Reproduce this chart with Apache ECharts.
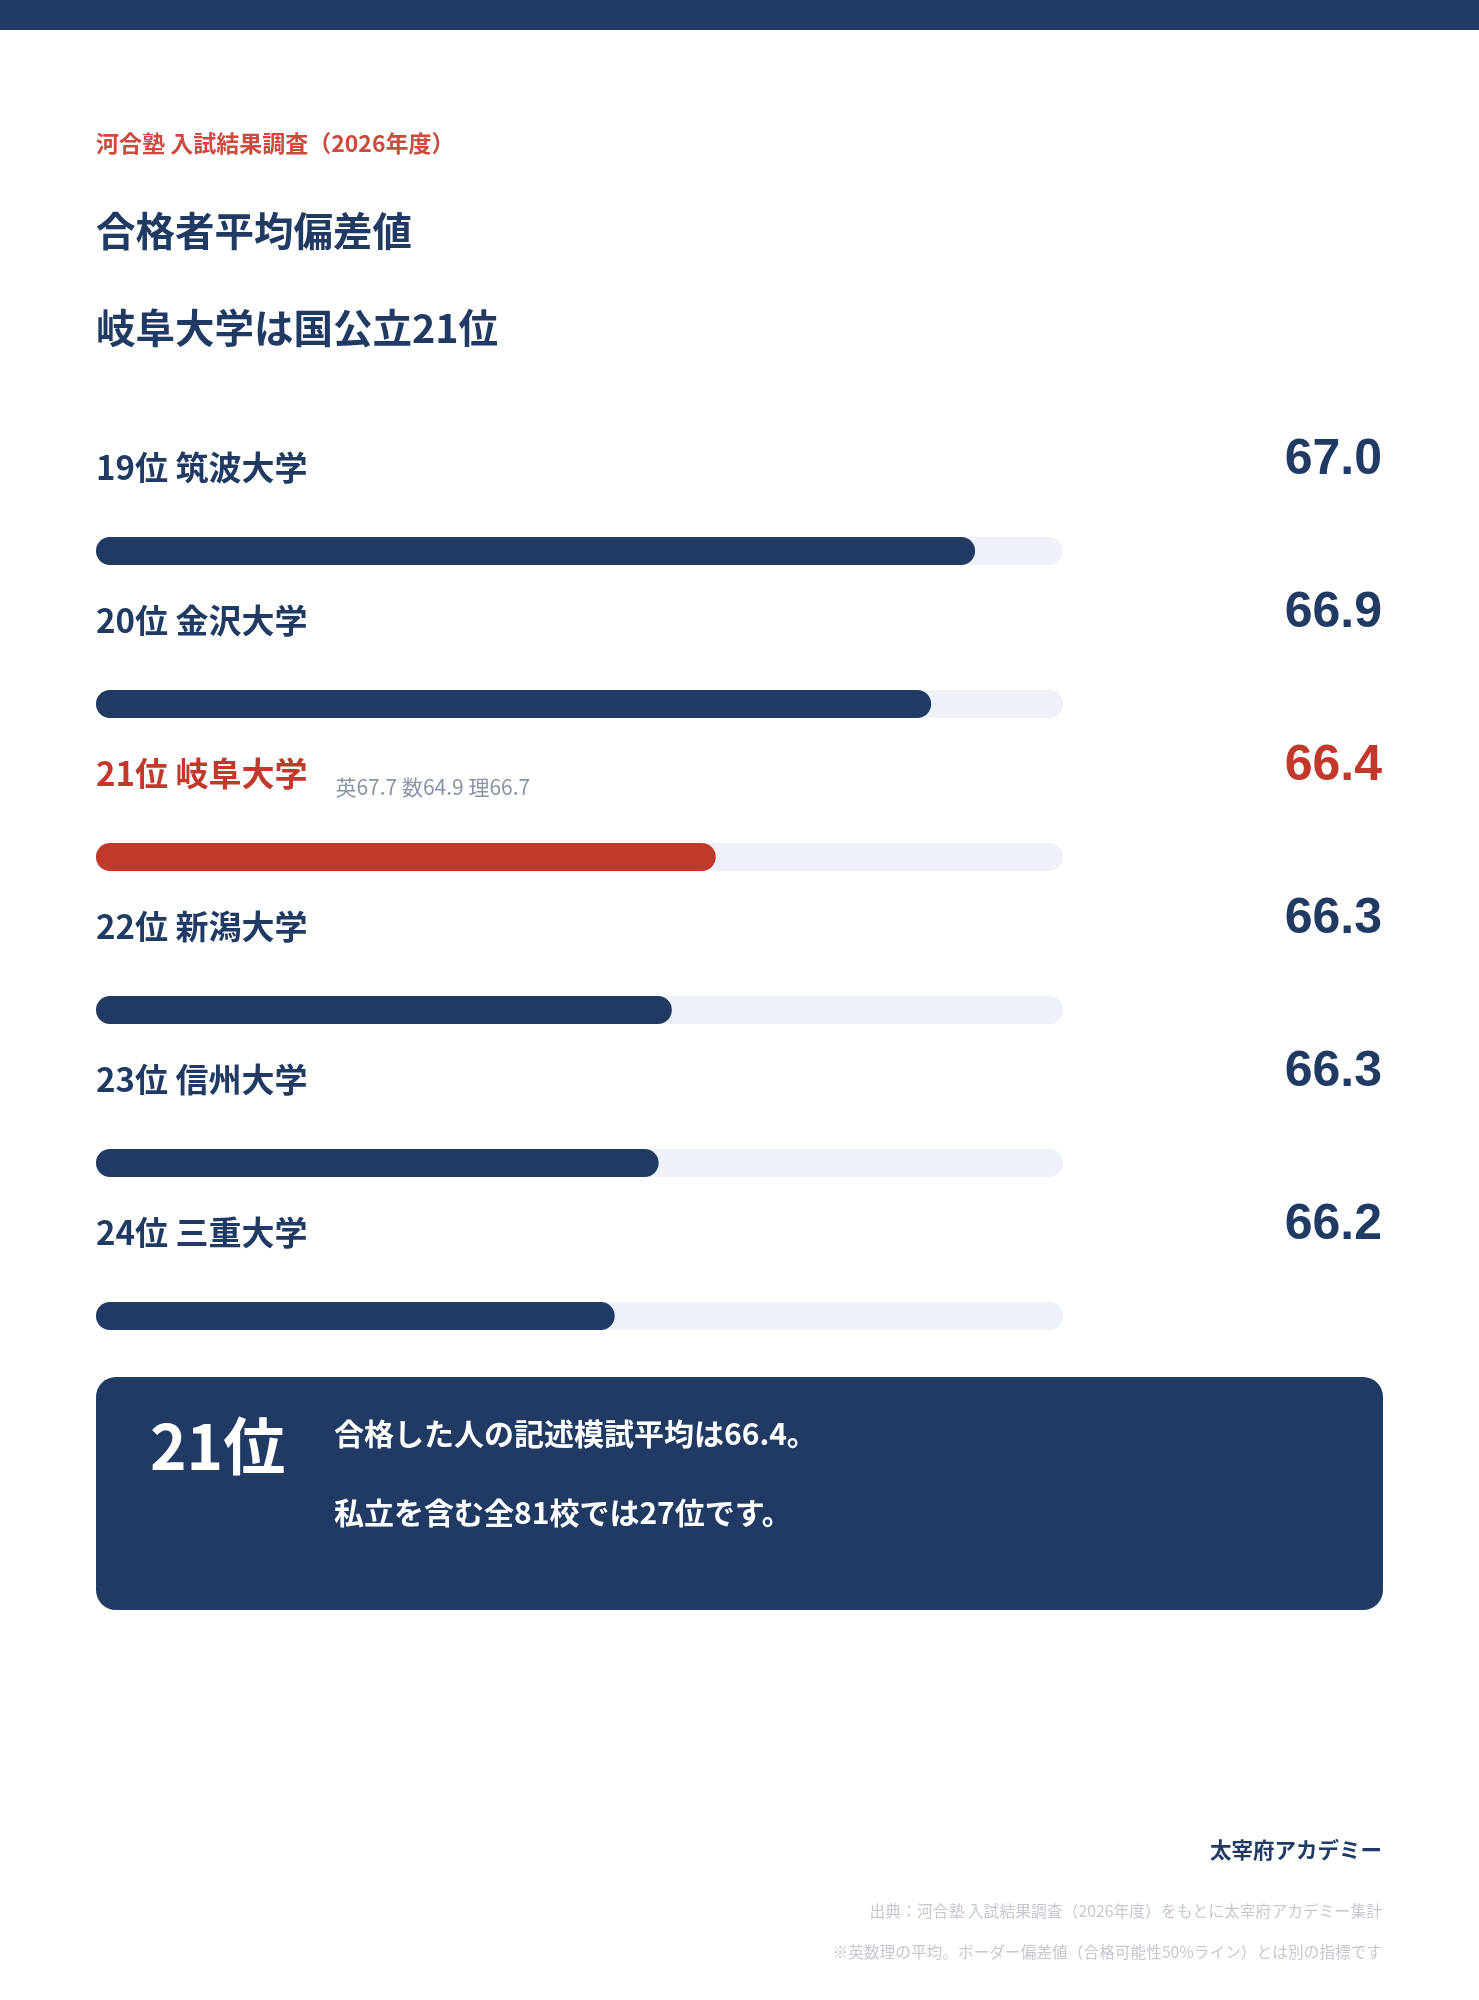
<!DOCTYPE html>
<html>
<head>
<meta charset="utf-8">
<script src="https://cdn.jsdelivr.net/npm/echarts@6/dist/echarts.min.js"></script>
<style>
html,body{margin:0;padding:0;background:#ffffff;}
#chart{width:1479px;height:2000px;}
</style>
</head>
<body>
<div id="chart"></div>
<script>
// ---- data ----
const ranks = [19, 20, 21, 22, 23, 24];
const universities = ['筑波大学', '金沢大学', '岐阜大学', '新潟大学', '信州大学', '三重大学'];
const scores = [67.0, 66.9, 66.41, 66.31, 66.28, 66.18];
const subScores = ['', '', '英67.7 数64.9 理66.7', '', '', ''];
const highlightIndex = 2;
const axisMin = 65.0;
const axisMax = 67.2;

const NAVY = '#213a63';
const RED = '#c0392b';
const TRACK = '#eef1f8';
const CJK = '"Noto Sans CJK JP", "Noto Sans", sans-serif';
const NUM = '"Liberation Sans", Arial, sans-serif';

const chart = echarts.init(document.getElementById('chart'));

const rowTop = 474.5, rowH = 918;

const option = {
  animation: false,
  backgroundColor: '#ffffff',
  grid: [
    { left: 96, right: 416, top: rowTop, height: rowH },
    { left: 96, right: 97, top: rowTop - 91, height: rowH },
    { left: 96, right: 97, top: rowTop - 84, height: rowH }
  ],
  xAxis: [
    { gridIndex: 0, type: 'value', min: axisMin, max: axisMax, show: false },
    { gridIndex: 1, type: 'value', min: 0, max: 1, show: false },
    { gridIndex: 2, type: 'value', min: 0, max: 1, show: false }
  ],
  yAxis: [
    { gridIndex: 0, type: 'category', data: universities, inverse: true, show: false },
    {
      gridIndex: 1, type: 'category', data: universities, inverse: true, position: 'right',
      axisLine: { show: false }, axisTick: { show: false },
      axisLabel: {
        inside: true, margin: 0, align: 'right', verticalAlign: 'middle',
        formatter: function (v, i) {
          return (i === highlightIndex ? '{r|' : '{n|') + scores[i].toFixed(1) + '}';
        },
        rich: {
          n: { fontFamily: NUM, fontWeight: 'bold', fontSize: 50, color: NAVY },
          r: { fontFamily: NUM, fontWeight: 'bold', fontSize: 50, color: RED }
        }
      }
    },
    {
      gridIndex: 2, type: 'category', data: universities, inverse: true, position: 'left',
      axisLine: { show: false }, axisTick: { show: false },
      axisLabel: {
        inside: true, margin: 0, align: 'left', verticalAlign: 'middle',
        formatter: function (v, i) {
          const label = ranks[i] + '位 ' + universities[i];
          const key = i === highlightIndex ? 'r' : 'n';
          return '{' + key + '|' + label + '}' + (subScores[i] ? '{s|' + subScores[i] + '}' : '');
        },
        rich: {
          n: { fontFamily: CJK, fontWeight: 'bold', fontSize: 33, color: NAVY, lineHeight: 50 },
          r: { fontFamily: CJK, fontWeight: 'bold', fontSize: 33, color: RED, lineHeight: 50 },
          s: { fontFamily: CJK, fontSize: 21, color: '#8a94a6', lineHeight: 21, verticalAlign: 'bottom', padding: [0, 0, 0, 28] }
        }
      }
    }
  ],
  series: [
    {
      type: 'bar',
      xAxisIndex: 0, yAxisIndex: 0,
      barWidth: 28,
      showBackground: true,
      backgroundStyle: { color: TRACK, borderRadius: 14 },
      itemStyle: { borderRadius: 14 },
      data: scores.map(function (v, i) {
        return { value: v, itemStyle: { color: i === highlightIndex ? RED : NAVY } };
      })
    }
  ],
  graphic: [
    { type: 'rect', left: 0, top: 0, shape: { width: 1479, height: 30 }, style: { fill: NAVY } },
    { type: 'text', left: 96, top: 132, style: { text: '河合塾 入試結果調査（2026年度）', font: 'bold 23px ' + CJK, fill: '#cc4a3f' } },
    { type: 'text', left: 96, top: 211, style: { text: '合格者平均偏差値', font: 'bold 39.5px ' + CJK, fill: NAVY } },
    { type: 'text', left: 96, top: 308, style: { text: '岐阜大学は国公立21位', font: 'bold 39.5px ' + CJK, fill: NAVY } },
    { type: 'rect', left: 96, top: 1377, shape: { width: 1287, height: 233, r: 20 }, style: { fill: NAVY } },
    { type: 'text', left: 150, top: 1415, style: { text: ranks[highlightIndex] + '位', font: 'bold 62px ' + CJK, fill: '#ffffff' } },
    { type: 'text', left: 334, top: 1419, style: { text: '合格した人の記述模試平均は66.4。', font: 'bold 30px ' + CJK, fill: '#ffffff' } },
    { type: 'text', left: 334, top: 1498, style: { text: '私立を含む全81校では27位です。', font: 'bold 30px ' + CJK, fill: '#ffffff' } },
    { type: 'text', right: 97, top: 1839, style: { text: '太宰府アカデミー', font: 'bold 21.5px ' + CJK, fill: NAVY } },
    { type: 'text', right: 97, top: 1903, style: { text: '出典：河合塾 入試結果調査（2026年度）をもとに太宰府アカデミー集計', font: '15.8px ' + CJK, fill: '#c3c8d2' } },
    { type: 'text', right: 97, top: 1944, style: { text: '※英数理の平均。ボーダー偏差値（合格可能性50%ライン）とは別の指標です', font: '15.7px ' + CJK, fill: '#c3c8d2' } }
  ]
};

chart.setOption(option);
</script>
</body>
</html>
